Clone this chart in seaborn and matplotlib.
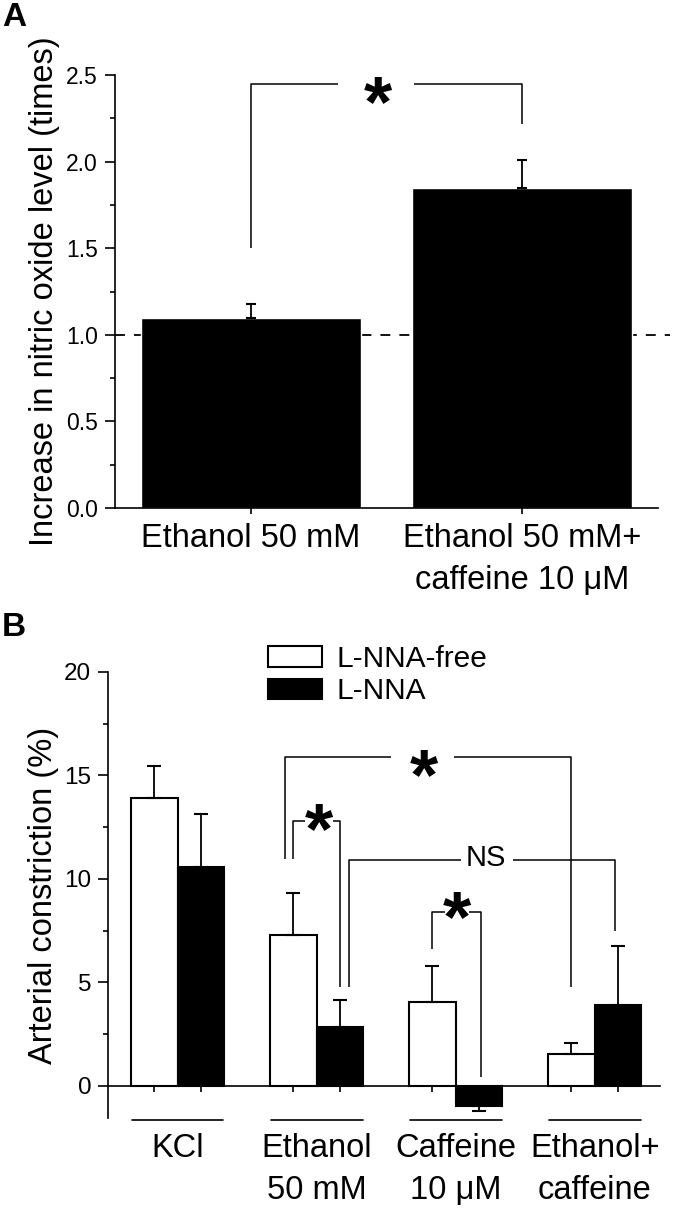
import numpy as np
import pandas as pd
import matplotlib
matplotlib.use('Agg')
import matplotlib.pyplot as plt
from matplotlib.ticker import MultipleLocator, FormatStrFormatter
import seaborn as sns

# ── Data ───────────────────────────────────────────────────
# Panel A: nitric oxide level (fold increase)
a_groups = ["Ethanol 50 mM", "Ethanol 50 mM+\ncaffeine 10 μM"]
a_means = [1.10, 1.85]
a_sem = [0.08, 0.16]

# Panel B: arterial constriction (%)
b_groups = ["KCl", "Ethanol\n50 mM", "Caffeine\n10 μM", "Ethanol+\ncaffeine"]
b_conditions = ["L-NNA-free", "L-NNA"]
b_free = [13.9, 7.3, 4.05, 1.55]
b_free_sem = [1.55, 2.0, 1.75, 0.5]
b_lnna = [10.6, 2.85, -0.95, 3.9]
b_lnna_sem = [2.55, 1.3, 0.25, 2.85]

# ── Styling ────────────────────────────────────────────────
sns.set_theme(style="ticks", rc={"text.color": "black", "axes.labelcolor": "black",
                                 "xtick.color": "black", "ytick.color": "black",
                                 "axes.edgecolor": "black"})
plt.rcParams['font.family'] = ['Liberation Sans', 'DejaVu Sans']
plt.rcParams['axes.linewidth'] = 1.2

fig = plt.figure(figsize=(6.75, 12.14), dpi=100)
axA = fig.add_axes([0.170, 0.5815, 0.805, 0.3567])
axB = fig.add_axes([0.160, 0.0791, 0.818, 0.3674])

STAR = 52


def bracket(ax, x1, x2, top, y1, y2, label, tx, gl, gr, fs, dy):
    kw = dict(color="black", lw=1.1, clip_on=False, solid_capstyle="butt")
    ax.plot([x1, x1, gl], [y1, top, top], **kw)
    ax.plot([gr, x2, x2], [top, top, y2], **kw)
    if label == "*":
        ax.annotate(label, (tx, top), xytext=(0, -0.58 * fs + dy), textcoords="offset points",
                    ha="center", va="baseline", fontsize=fs, fontweight="bold",
                    annotation_clip=False)
    else:
        ax.annotate(label, (tx, top), xytext=(0, -0.36 * fs + dy), textcoords="offset points",
                    ha="center", va="baseline", fontsize=fs, annotation_clip=False)


# ── Panel A ────────────────────────────────────────────────
dfA = pd.DataFrame({"group": a_groups, "value": a_means})
sns.barplot(data=dfA, x="group", y="value", color="black", saturation=1,
            width=0.81, errorbar=None, ax=axA)
axA.errorbar(np.arange(len(a_means)), a_means, yerr=[np.zeros(len(a_sem)), a_sem],
             fmt="none", ecolor="black", elinewidth=1.3, capsize=3.8, capthick=1.5)
axA.plot([-0.5, 1.545], [1, 1], ls=(0, (5.5, 5)), color="black", lw=1.3, zorder=0,
         clip_on=False)
axA.set_xlim(-0.5, 1.5)
axA.set_ylim(0, 2.5)
axA.yaxis.set_major_locator(MultipleLocator(0.5))
axA.yaxis.set_minor_locator(MultipleLocator(0.25))
axA.yaxis.set_major_formatter(FormatStrFormatter("%.1f"))
axA.tick_params(axis="y", which="major", direction="out", length=7, width=1.2,
                labelsize=16.5, pad=5)
axA.tick_params(axis="y", which="minor", direction="out", length=3.6, width=1.2)
axA.tick_params(axis="x", direction="out", length=4, width=1.2, labelsize=23.5, pad=7)
for lbl in axA.get_xticklabels():
    lbl.set_linespacing(1.45)
axA.set_xlabel("")
axA.set_ylabel("Increase in nitric oxide level (times)", fontsize=23.5)
axA.yaxis.set_label_coords(-0.100, 0.5)
sns.despine(ax=axA)
bracket(axA, 0, 1, 2.45, 1.5, 2.22, "*", 0.47, 0.32, 0.60, STAR, 0)

# ── Panel B ────────────────────────────────────────────────
dfB = pd.DataFrame({
    "group": b_groups * len(b_conditions),
    "condition": np.repeat(b_conditions, len(b_groups)),
    "value": b_free + b_lnna,
})
sns.barplot(data=dfB, x="group", y="value", hue="condition", hue_order=b_conditions,
            palette={"L-NNA-free": "white", "L-NNA": "black"}, saturation=1,
            edgecolor="black", linewidth=1.5, width=0.67, errorbar=None, ax=axB)

off = 0.67 / 4
pos = np.arange(len(b_groups))
for xs, vals, sems in [(pos - off, b_free, b_free_sem), (pos + off, b_lnna, b_lnna_sem)]:
    vals = np.array(vals)
    sems = np.array(sems)
    lo = np.where(vals < 0, sems, 0)
    hi = np.where(vals < 0, 0, sems)
    axB.errorbar(xs, vals, yerr=[lo, hi], fmt="none", ecolor="black",
                 elinewidth=1.3, capsize=5, capthick=1.5)

axB.set_xlim(-0.5, 3.47)
axB.set_ylim(-1.55, 20)
axB.spines["bottom"].set_position(("data", 0))
sns.despine(ax=axB)
axB.set_xticks(np.sort(np.concatenate([pos - off, pos + off])))
axB.set_xticklabels([])
axB.yaxis.set_major_locator(MultipleLocator(5))
axB.yaxis.set_minor_locator(MultipleLocator(2.5))
axB.tick_params(axis="y", which="major", direction="out", length=7, width=1.2,
                labelsize=17.5, pad=5)
axB.tick_params(axis="y", which="minor", direction="out", length=3.6, width=1.2)
axB.tick_params(axis="x", direction="out", length=4, width=1.2)
axB.set_xlabel("")
axB.set_ylabel("Arterial constriction (%)", fontsize=23.5)
axB.yaxis.set_label_coords(-0.088, 0.5)

for i, name in enumerate(b_groups):
    axB.plot([i - 0.33, i + 0.33], [-1.66, -1.66], color="black", lw=1.2, clip_on=False)
    axB.text(i, -2.3, name, ha="center", va="top", fontsize=23.5, linespacing=1.45,
             clip_on=False)

handles, labels = axB.get_legend_handles_labels()
axB.legend(handles, labels, loc="upper left", bbox_to_anchor=(268 / 675, 1 - 645 / 1214),
           bbox_transform=fig.transFigure, frameon=False, fontsize=21.5,
           handlelength=1.8, handleheight=0.7, handletextpad=0.5, labelspacing=0.15,
           borderpad=0, borderaxespad=0)

bracket(axB, 0.774, 2.8325, 15.9, 10.97, 4.78, "*", 1.77, 1.537, 1.99, STAR, 0)
bracket(axB, 0.8325, 1.17, 12.82, 10.97, 4.77, "*", 1.016, 0.914, 1.117, STAR, 7)
bracket(axB, 1.235, 3.146, 10.92, 4.8, 7.49, "NS", 2.22, 2.035, 2.41, 21, 3.5)
bracket(axB, 1.8325, 2.18, 8.42, 6.60, 0.45, "*", 2.01, 1.926, 2.097, STAR, 9)

# panel letters
fig.text(0.003, 1 - 2 / 1214, "A", ha="left", va="top", fontsize=24, fontweight="bold")
fig.text(0.003, 1 - 612 / 1214, "B", ha="left", va="top", fontsize=24, fontweight="bold")

fig.savefig("out.png", dpi=100)
